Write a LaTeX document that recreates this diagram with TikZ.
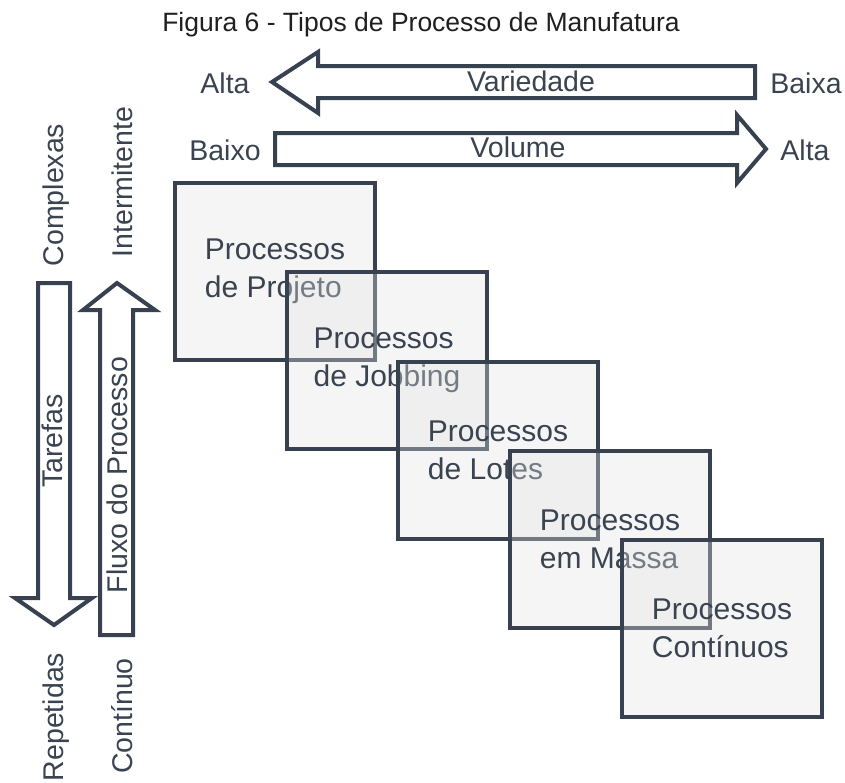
\documentclass[tikz,border=0pt]{standalone}
\usepackage{fontspec}
\setmainfont{Liberation Sans}
\begin{document}
\begin{tikzpicture}[x=1pt,y=-1pt,
  ink/.style={draw=strokec,line width=4pt,line join=miter},
  fatarrow/.style={ink,fill=white},
  procbox/.style={ink,fill=boxc,fill opacity=0.35,text opacity=1,text=textc,
    minimum width=200pt,minimum height=177pt,align=left,
    font=\fontsize{30}{38}\selectfont},
  lbl/.style={text=textc,font=\fontsize{28.5}{32}\selectfont,inner sep=0pt,anchor=base},
  vlbl/.style={lbl,rotate=90}]
\definecolor{strokec}{RGB}{55,65,79}
\definecolor{textc}{RGB}{58,67,80}
\definecolor{boxc}{RGB}{228,228,230}
\useasboundingbox (0,0) rectangle (845,782);
\fill[white] (0,0) rectangle (845,782);
% title
\node[text=black!88,font=\fontsize{26.5}{30}\selectfont,inner sep=0pt,anchor=base] (title) at (421,31) {Figura 6 - Tipos de Processo de Manufatura};
% top arrows
\draw[fatarrow] (755,66) -- (318,66) -- (318,52) -- (272,82) -- (318,113) -- (318,98) -- (755,98) -- cycle;
\node[lbl] (var) at (531,91) {Variedade};
\node[lbl] (altaA) at (225,93) {Alta};
\node[lbl] (baixa) at (806,93) {Baixa};
\draw[fatarrow] (275,133) -- (737,133) -- (737,115) -- (766,149) -- (737,183) -- (737,165) -- (275,165) -- cycle;
\node[lbl] (vol) at (518,157) {Volume};
\node[lbl] (baixo) at (225,160) {Baixo};
\node[lbl] (altaB) at (805,160) {Alta};
% left arrows
\draw[fatarrow] (38,283) -- (70,283) -- (70,598) -- (92,598) -- (54,625) -- (15,598) -- (38,598) -- cycle;
\node[vlbl] (taref) at (62,441) {Tarefas};
\node[vlbl] (compl) at (63,195) {Complexas};
\node[vlbl] (repet) at (63,717) {Repetidas};
\draw[fatarrow] (100,635) -- (133,635) -- (133,310) -- (155,310) -- (117,283) -- (83,310) -- (100,310) -- cycle;
\node[vlbl] (fluxo) at (127,475) {Fluxo do Processo};
\node[vlbl] (interm) at (132,182) {Intermitente};
\node[vlbl] (contin) at (132,716) {Contínuo};
% process boxes
\node[procbox] (b1) at (275,271) {Processos\\de Projeto};
\node[procbox] (b2) at (387,360) {Processos\\de Jobbing};
\node[procbox] (b3) at (498,450) {Processos\\de Lotes};
\node[procbox] (b4) at (610,539) {Processos\\em Massa};
\node[procbox] (b5) at (722,628) {Processos\\Contínuos};
\end{tikzpicture}
\end{document}
